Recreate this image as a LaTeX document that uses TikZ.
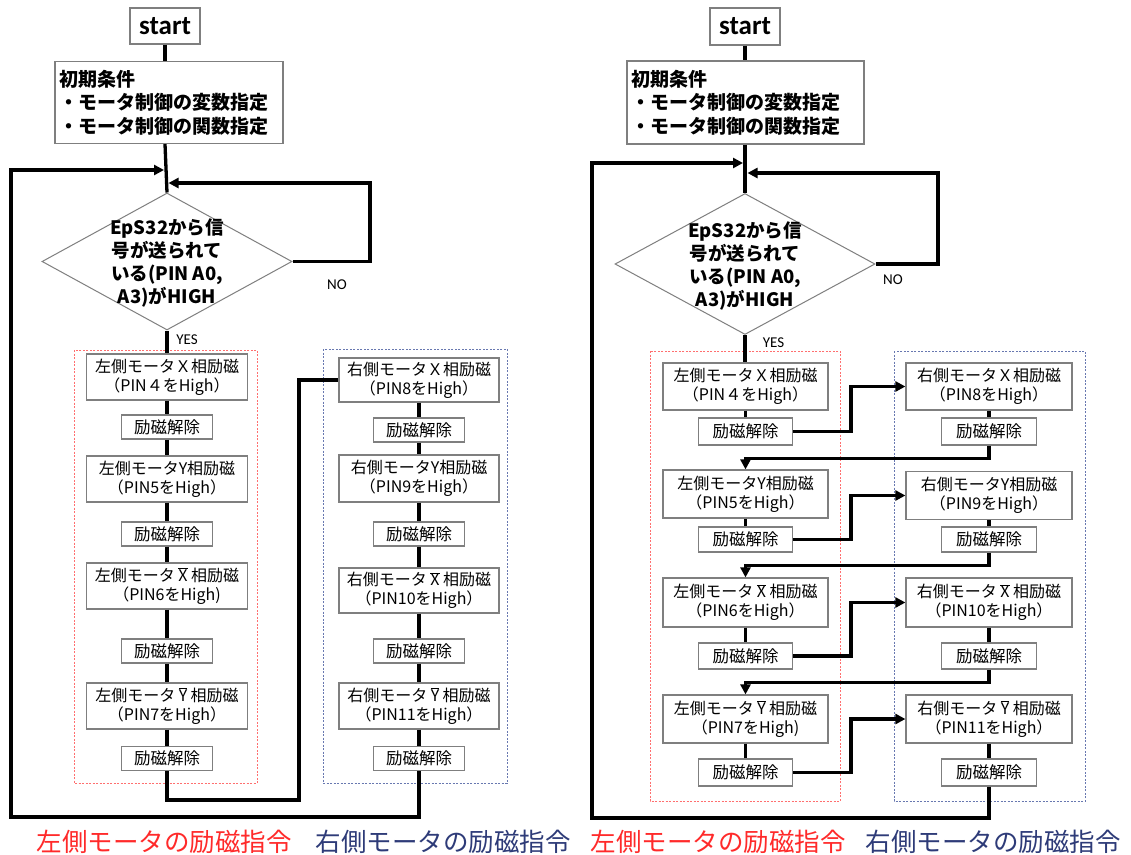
\documentclass[tikz,border=0pt]{standalone}
\usepackage{fontspec}
\usetikzlibrary{shapes.geometric,arrows.meta}
\newfontfamily\jpf{Noto Sans CJK JP}
\newfontfamily\calib{Carlito}
\definecolor{boxgray}{HTML}{7F7F7F}
\definecolor{dotred}{HTML}{FF6F6F}
\definecolor{dotblue}{HTML}{6878B0}
\definecolor{labred}{HTML}{FF2A2A}
\definecolor{labblue}{HTML}{2E3B78}
\newcommand\olx{\hspace{3.5pt}$\overline{\mbox{X}}$\hspace{3.5pt}}
\newcommand\oly{\hspace{3.5pt}$\overline{\mbox{Y}}$\hspace{3.5pt}}
\begin{document}
\begin{tikzpicture}[x=1pt,y=-1pt,
  conn/.style={line width=3.3pt, black},
  arr/.style={conn, -{Triangle[length=10pt,width=10pt]}},
  gbox/.style={draw=boxgray, line width=1.2pt, fill=white, inner sep=0pt, align=center},
  startbox/.style={gbox, minimum width=70pt, minimum height=36pt, font=\calib\bfseries\fontsize{27}{30}\selectfont},
  initbox/.style={gbox, align=left, text width=220pt, inner xsep=4pt, minimum height=82pt, font=\jpf\bfseries\fontsize{19}{23.5}\selectfont},
  diabox/.style={diamond, draw=boxgray, line width=1pt, fill=white, inner sep=0pt},
  diatext/.style={align=center, inner sep=0pt, font=\jpf\bfseries\fontsize{18.5}{23}\selectfont},
  motor/.style={gbox, font=\jpf\fontsize{16}{19}\selectfont},
  kaijo/.style={gbox, font=\jpf\fontsize{16.5}{18}\selectfont},
  yn/.style={inner sep=0pt, font=\calib\fontsize{15}{16}\selectfont},
  redgrp/.style={draw=dotred, line width=1pt, dash pattern=on 2pt off 1.5pt},
  bluegrp/.style={draw=dotblue, line width=1pt, dash pattern=on 2pt off 1.5pt},
  lab/.style={inner sep=0pt, font=\jpf\fontsize{25.5}{27}\selectfont}
]
\fill[white] (0,0) rectangle (1131,854);
\useasboundingbox (0,0) rectangle (1131,854);

% ================= LEFT DIAGRAM =================
\draw[redgrp] (74,350) rectangle (257,783);
\draw[bluegrp] (323,349) rectangle (507,783);

\node[startbox] (Lstart) at (165,26) {start};
\node[initbox, minimum width=228pt] (Linit) at (169,102.5) {初期条件\\・モータ制御の変数指定\\・モータ制御の関数指定};
\node[diabox, minimum width=250pt, minimum height=137pt] (Ldia) at (167,261.5) {};
\node[diatext] (Ldiat) at (167,263) {EpS32から信\\号が送られて\\いる(PIN A0,\\A3)がHIGH};
\node[yn] (Lno) at (337,285) {NO};
\node[yn] (Lyes) at (187,340) {YES};

\node[motor, minimum width=161pt, minimum height=46pt] (La1) at (167,377) {左側モータＸ相励磁\\（PIN４をHigh）};
\node[kaijo, minimum width=91pt, minimum height=24pt] (La2) at (167,427) {励磁解除};
\node[motor, minimum width=161pt, minimum height=46pt] (La3) at (167,479) {左側モータY相励磁\\（PIN5をHigh）};
\node[kaijo, minimum width=91pt, minimum height=24pt] (La4) at (167,534) {励磁解除};
\node[motor, minimum width=161pt, minimum height=46pt] (La5) at (167,586) {左側モータ\olx 相励磁\\（PIN6をHigh)};
\node[kaijo, minimum width=91pt, minimum height=24pt] (La6) at (167,651) {励磁解除};
\node[motor, minimum width=161pt, minimum height=46pt] (La7) at (167,706) {左側モータ\oly 相励磁\\（PIN7をHigh）};
\node[kaijo, minimum width=91pt, minimum height=24pt] (La8) at (167,758.5) {励磁解除};

\node[motor, minimum width=160pt, minimum height=44pt] (Lb1) at (419,380) {右側モータＸ相励磁\\（PIN8をHigh）};
\node[kaijo, minimum width=91pt, minimum height=24pt] (Lb2) at (419,430) {励磁解除};
\node[motor, minimum width=160pt, minimum height=47pt] (Lb3) at (419,478.5) {右側モータY相励磁\\（PIN9をHigh）};
\node[kaijo, minimum width=91pt, minimum height=24pt] (Lb4) at (419,534) {励磁解除};
\node[motor, minimum width=160pt, minimum height=45pt] (Lb5) at (419,590.5) {右側モータ\olx 相励磁\\（PIN10をHigh）};
\node[kaijo, minimum width=91pt, minimum height=24pt] (Lb6) at (419,651) {励磁解除};
\node[motor, minimum width=160pt, minimum height=46pt] (Lb7) at (419,706) {右側モータ\oly 相励磁\\（PIN11をHigh）};
\node[kaijo, minimum width=91pt, minimum height=24pt] (Lb8) at (419,758.5) {励磁解除};

\coordinate (Lin1) at (164,170);
\coordinate (Lin2) at (168.5,183);

\draw[conn] (Lstart.south) -- (Lstart.south |- Linit.north);
\draw[conn] (Lstart.south |- Linit.south) -- (Ldia.north);
\draw[conn] (Ldia.south) -- (La1.north);
\foreach \i/\j in {1/2,2/3,3/4,4/5,5/6,6/7,7/8}{
  \draw[conn] (La\i.south) -- (La\j.north);
  \draw[conn] (Lb\i.south) -- (Lb\j.north);
}
\draw[arr] (Ldia.east) -- (370,261.5) |- (Lin2);
\draw[conn] (La8.south) -- (167,800) -| (299,380) -- (Lb1.west);
\draw[arr] (Lb8.south) -- (419,817) -| (11,170) -- (Lin1);

% ================= RIGHT DIAGRAM =================
\draw[redgrp] (650,351) rectangle (840,801);
\draw[bluegrp] (894,351) rectangle (1085,801);

\node[startbox, minimum height=37pt] (Rstart) at (745,26.5) {start};
\node[initbox, minimum width=237pt, text width=229pt, minimum height=83pt] (Rinit) at (745.5,102.5) {初期条件\\・モータ制御の変数指定\\・モータ制御の関数指定};
\node[diabox, minimum width=260pt, minimum height=141pt] (Rdia) at (745,264) {};
\node[diatext] (Rdiat) at (745,265.5) {EpS32から信\\号が送られて\\いる(PIN A0,\\A3)がHIGH};
\node[yn] (Rno) at (893,280) {NO};
\node[yn] (Ryes) at (773.5,343) {YES};

\node[motor, minimum width=165pt, minimum height=47pt] (Ra1) at (745.5,386.5) {左側モータＸ相励磁\\（PIN４をHigh）};
\node[kaijo, minimum width=94pt, minimum height=27pt] (Ra2) at (745.5,431.5) {励磁解除};
\node[motor, minimum width=165pt, minimum height=48pt] (Ra3) at (745.5,494) {左側モータY相励磁\\（PIN5をHigh）};
\node[kaijo, minimum width=94pt, minimum height=25pt] (Ra4) at (745.5,539.5) {励磁解除};
\node[motor, minimum width=165pt, minimum height=49pt] (Ra5) at (745.5,602.5) {左側モータ\olx 相励磁\\（PIN6をHigh）};
\node[kaijo, minimum width=94pt, minimum height=26pt] (Ra6) at (745.5,656) {励磁解除};
\node[motor, minimum width=165pt, minimum height=48pt] (Ra7) at (745.5,719) {左側モータ\oly 相励磁\\（PIN7をHigh)};
\node[kaijo, minimum width=94pt, minimum height=27pt] (Ra8) at (745.5,772.5) {励磁解除};

\node[motor, minimum width=166pt, minimum height=47pt] (Rb1) at (989,386.5) {右側モータＸ相励磁\\（PIN8をHigh）};
\node[kaijo, minimum width=95pt, minimum height=27pt] (Rb2) at (989,431.5) {励磁解除};
\node[motor, minimum width=166pt, minimum height=48pt] (Rb3) at (989,495.5) {右側モータY相励磁\\（PIN9をHigh）};
\node[kaijo, minimum width=95pt, minimum height=25pt] (Rb4) at (989,539.5) {励磁解除};
\node[motor, minimum width=166pt, minimum height=49pt] (Rb5) at (989,602.5) {右側モータ\olx 相励磁\\（PIN10をHigh）};
\node[kaijo, minimum width=95pt, minimum height=26pt] (Rb6) at (989,656) {励磁解除};
\node[motor, minimum width=166pt, minimum height=48pt] (Rb7) at (989,719) {右側モータ\oly 相励磁\\（PIN11をHigh）};
\node[kaijo, minimum width=95pt, minimum height=27pt] (Rb8) at (989,772.5) {励磁解除};

\coordinate (Rin1) at (743,163);
\coordinate (Rin2) at (747.5,173);

\draw[conn] (Rstart.south) -- (Rinit.north -| Rstart.south);
\draw[conn] (Rinit.south -| Rstart.south) -- (Rdia.north);
\draw[conn] (Rdia.south) -- (Ra1.north -| Rdia.south);
\foreach \i/\j in {1/2,3/4,5/6,7/8}{
  \draw[conn] (Ra\i.south) -- (Ra\j.north);
  \draw[conn] (Rb\i.south) -- (Rb\j.north);
}
\foreach \k/\t in {2/1,4/3,6/5,8/7}{
  \draw[arr] (Ra\k.east) -- ++(58,0) |- (Rb\t.west);
}
\foreach \k/\t in {2/3,4/5,6/7}{
  \draw[arr] (Rb\k.south) -- ++(0,13) -| (Ra\t.north);
}
\draw[arr] (Rdia.east) -- (938,264) |- (Rin2);
\draw[arr] (Rb8.south) -- (989,818) -| (592,163) -- (Rin1);

% ================= LABELS =================
\node[lab, text=labred] (lab1) at (164,842) {左側モータの励磁指令};
\node[lab, text=labblue] (lab2) at (443,842) {右側モータの励磁指令};
\node[lab, text=labred] (lab3) at (718,842) {左側モータの励磁指令};
\node[lab, text=labblue] (lab4) at (993,842) {右側モータの励磁指令};
\end{tikzpicture}
\end{document}
